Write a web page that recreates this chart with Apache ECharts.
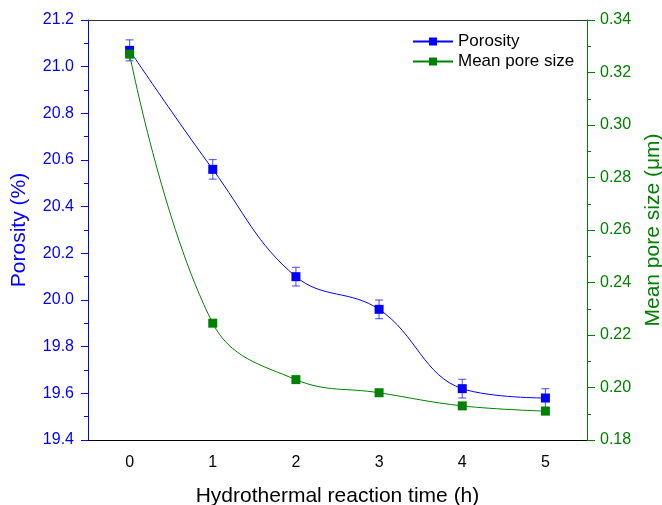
<!DOCTYPE html>
<html>
<head>
<meta charset="utf-8">
<script src="https://cdn.jsdelivr.net/npm/echarts@6/dist/echarts.min.js"></script>
<style>
  html, body { margin: 0; padding: 0; background: #fff; }
  #chart { width: 662px; height: 505px; }
</style>
</head>
<body>
<div id="chart"></div>
<script>
const times = ["0", "1", "2", "3", "4", "5"];
const porosity = [21.07, 20.56, 20.10, 19.96, 19.62, 19.58];
const porosityErr = [0.045, 0.042, 0.04, 0.04, 0.04, 0.04];
const poreSize = [0.327, 0.2245, 0.203, 0.198, 0.193, 0.191];

const blue = "#0000ff";
const green = "#008000";
const font = "Liberation Sans, Arial, sans-serif";

const errData = porosity.map((v, i) => [i, v - porosityErr[i], v + porosityErr[i]]);

const chart = echarts.init(document.getElementById("chart"));
chart.setOption({
  animation: false,
  textStyle: { fontFamily: font },
  grid: { left: 88, right: 75, top: 20, bottom: 65, outerBoundsMode: "none", containLabel: false },
  legend: {
    orient: "vertical",
    left: 407,
    top: 28,
    itemWidth: 40,
    itemHeight: 10,
    itemGap: 3,
    textStyle: { fontSize: 17, color: "#000", fontFamily: font },
    data: ["Porosity", "Mean pore size"]
  },
  xAxis: [
    {
      type: "category",
      data: times,
      position: "bottom",
      name: "Hydrothermal reaction time (h)",
      nameLocation: "middle",
      nameGap: 46,
      nameTextStyle: { fontSize: 21, color: "#000" },
      axisLine: { lineStyle: { color: "#000", width: 1 } },
      axisTick: { alignWithLabel: true, length: 8, lineStyle: { color: "#000" } },
      axisLabel: { fontSize: 16, color: "#000", margin: 15 }
    },
    {
      type: "category",
      data: times,
      position: "bottom",
      axisLine: { show: false },
      axisTick: { length: 4, lineStyle: { color: "#000" } },
      axisLabel: { show: false }
    },
    {
      type: "category",
      data: times,
      position: "top",
      axisLine: { lineStyle: { color: "#333", width: 1 } },
      axisTick: { show: false },
      axisLabel: { show: false }
    }
  ],
  yAxis: [
    {
      type: "value",
      min: 19.4,
      max: 21.2,
      interval: 0.2,
      position: "left",
      name: "Porosity (%)",
      nameLocation: "middle",
      nameRotate: 90,
      nameGap: 58,
      nameTextStyle: { fontSize: 21, color: blue },
      axisLine: { show: true, lineStyle: { color: blue, width: 1 } },
      axisTick: { show: true, length: 7, lineStyle: { color: blue } },
      minorTick: { show: true, splitNumber: 2, length: 4, lineStyle: { color: blue } },
      splitLine: { show: false },
      axisLabel: { fontSize: 16, color: blue, margin: 14, formatter: v => v.toFixed(1) }
    },
    {
      type: "value",
      min: 0.18,
      max: 0.34,
      interval: 0.02,
      position: "right",
      name: "Mean pore size (μm)",
      nameLocation: "middle",
      nameRotate: 90,
      nameGap: 56,
      nameTextStyle: { fontSize: 21, color: green },
      axisLine: { show: true, lineStyle: { color: green, width: 1 } },
      axisTick: { show: true, length: 8, lineStyle: { color: green } },
      minorTick: { show: true, splitNumber: 2, length: 4, lineStyle: { color: green } },
      splitLine: { show: false },
      axisLabel: { fontSize: 16, color: green, margin: 13, formatter: v => v.toFixed(2) }
    }
  ],
  series: [
    {
      type: "custom",
      xAxisIndex: 0,
      yAxisIndex: 0,
      silent: true,
      data: errData,
      renderItem: (params, api) => {
        const lo = api.coord([api.value(0), api.value(1)]);
        const hi = api.coord([api.value(0), api.value(2)]);
        const w = 4;
        const style = { stroke: "rgba(0,0,255,0.6)", lineWidth: 1.2 };
        return {
          type: "group",
          children: [
            { type: "line", shape: { x1: hi[0], y1: hi[1], x2: lo[0], y2: lo[1] }, style },
            { type: "line", shape: { x1: hi[0] - w, y1: hi[1], x2: hi[0] + w, y2: hi[1] }, style },
            { type: "line", shape: { x1: lo[0] - w, y1: lo[1], x2: lo[0] + w, y2: lo[1] }, style }
          ]
        };
      }
    },
    {
      name: "Porosity",
      type: "line",
      xAxisIndex: 0,
      yAxisIndex: 0,
      data: porosity,
      smooth: 0.4,
      symbol: "rect",
      symbolSize: 9,
      lineStyle: { color: blue, width: 1 },
      itemStyle: { color: blue }
    },
    {
      name: "Mean pore size",
      type: "line",
      xAxisIndex: 0,
      yAxisIndex: 1,
      data: poreSize,
      smooth: 0.4,
      symbol: "rect",
      symbolSize: 9,
      lineStyle: { color: green, width: 1 },
      itemStyle: { color: green }
    }
  ]
});
</script>
</body>
</html>
